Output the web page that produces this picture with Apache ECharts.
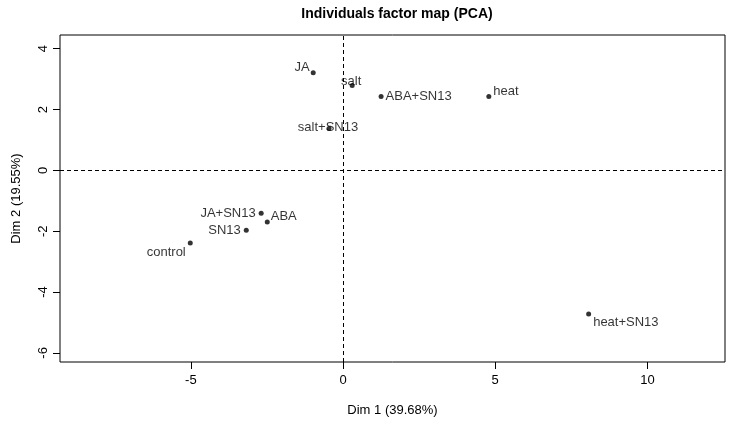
<!DOCTYPE html>
<html>
<head>
<meta charset="utf-8">
<script src="https://cdn.jsdelivr.net/npm/echarts@6/dist/echarts.min.js"></script>
<style>
  html, body { margin: 0; padding: 0; background: #fff; }
  #chart { width: 734px; height: 434px; }
</style>
</head>
<body>
<div id="chart"></div>
<script>
// individuals and their coordinates on the first two dimensions
const names = ['JA', 'salt', 'ABA+SN13', 'heat', 'salt+SN13', 'JA+SN13', 'ABA', 'SN13', 'control', 'heat+SN13']
const dim1 = [-0.98, 0.30, 1.25, 4.79, -0.46, -2.69, -2.49, -3.18, -5.02, 8.07]
const dim2 = [3.21, 2.79, 2.43, 2.43, 1.38, -1.41, -1.70, -1.97, -2.39, -4.72]
const xTicks = [-5, 0, 5, 10]
const yTicks = [-6, -4, -2, 0, 2, 4]

// where each label sits relative to its point
const labelPos = {
  'JA': { position: 'left', distance: 1, offset: [0, -5] },
  'salt': { position: 'top', distance: 0, offset: [-1, 5] },
  'ABA+SN13': { position: 'right', distance: 2, offset: [0, 0] },
  'heat': { position: 'right', distance: 2, offset: [0, -5] },
  'salt+SN13': { position: 'top', distance: 0, offset: [-1, 8] },
  'JA+SN13': { position: 'left', distance: 3, offset: [0, 0] },
  'ABA': { position: 'right', distance: 1, offset: [0, -6] },
  'SN13': { position: 'left', distance: 3, offset: [0, 0] },
  'control': { position: 'left', distance: 2, offset: [0, 9] },
  'heat+SN13': { position: 'right', distance: 2, offset: [0, 8] }
}

const font = 'Liberation Sans, Arial, sans-serif'

const points = names.map((n, i) => ({
  value: [dim1[i], dim2[i]],
  name: n,
  label: Object.assign({ show: true, formatter: n }, labelPos[n])
}))

let myChart = echarts.init(document.getElementById('chart'))
myChart.setOption({
  animation: false,
  title: {
    text: 'Individuals factor map (PCA)',
    left: 392,
    textAlign: 'center',
    top: 2,
    textStyle: { fontFamily: font, fontSize: 14, fontWeight: 'bold', color: '#000' }
  },
  grid: {
    left: 60, right: 9, top: 35, bottom: 72,
    outerBoundsMode: 'none',
    containLabel: false,
    show: true, borderColor: '#000', borderWidth: 1
  },
  xAxis: {
    type: 'value',
    min: -9.3,
    max: 12.55,
    name: 'Dim 1 (39.68%)',
    nameLocation: 'middle',
    nameGap: 42,
    nameTextStyle: { fontFamily: font, fontSize: 13, color: '#000' },
    axisLine: { show: false, onZero: false },
    axisTick: { show: true, inside: false, length: 7, lineStyle: { color: '#000' }, customValues: xTicks },
    axisLabel: { fontFamily: font, fontSize: 13, color: '#000', margin: 12, customValues: xTicks },
    splitLine: { show: false }
  },
  yAxis: {
    type: 'value',
    min: -6.3,
    max: 4.45,
    name: 'Dim 2 (19.55%)',
    nameLocation: 'middle',
    nameGap: 37,
    nameTextStyle: { fontFamily: font, fontSize: 13, color: '#000' },
    axisLine: { show: false, onZero: false },
    axisTick: { show: true, inside: false, length: 7, lineStyle: { color: '#000' }, customValues: yTicks },
    axisLabel: { fontFamily: font, fontSize: 13, color: '#000', margin: 10, rotate: 90, customValues: yTicks },
    splitLine: { show: false }
  },
  series: [
    {
      type: 'scatter',
      symbol: 'circle',
      symbolSize: 5,
      itemStyle: { color: '#000' },
      label: { fontFamily: font, fontSize: 13, color: '#000' },
      data: points,
      markLine: {
        silent: true,
        symbol: 'none',
        label: { show: false },
        lineStyle: { color: '#000', type: [4, 3], width: 1 },
        data: [{ xAxis: 0 }, { yAxis: 0 }]
      }
    }
  ]
})
window.onresize = function() {
  myChart.resize()
}
</script>
</body>
</html>
